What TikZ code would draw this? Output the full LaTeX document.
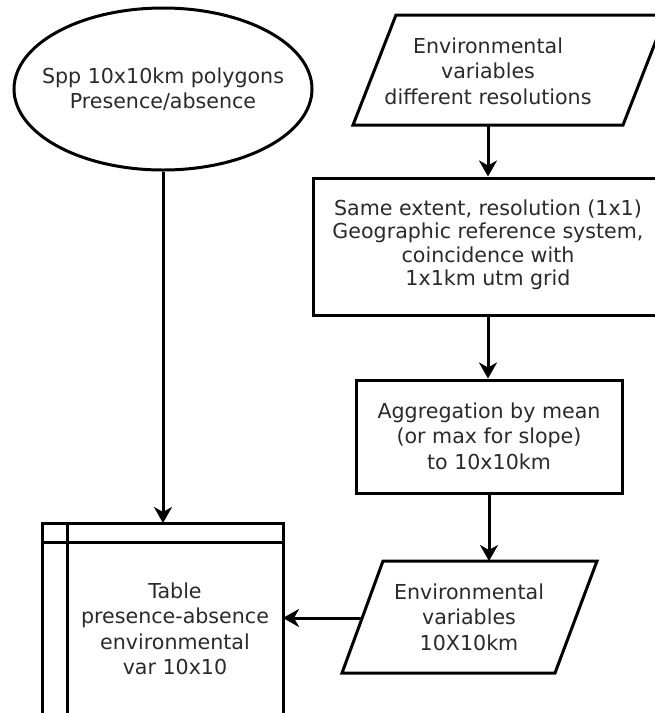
\documentclass[tikz,border=0pt]{standalone}
\usepackage{fontspec}
\setmainfont{DejaVu Sans}
\usetikzlibrary{arrows.meta,shapes.geometric}
\definecolor{txt}{HTML}{2A2A2A}
\tikzset{
  shapeline/.style={line width=3pt, line join=miter},
  label/.style={text=txt, align=center, font=\fontsize{20.6}{25.5}\selectfont, inner sep=0pt},
  flow/.style={line width=3pt, -{Stealth[length=16pt,width=18pt,inset=5pt]}},
}
\begin{document}
\begin{tikzpicture}[x=1pt,y=-1pt]
\useasboundingbox (0,0) rectangle (655,713);
\clip (0,0) rectangle (655,713);
\fill[white] (0,0) rectangle (655,713);

% ellipse
\node[shapeline, draw, ellipse, minimum width=298pt, minimum height=162pt, inner sep=0pt] (spp) at (163,89) {};
\node[label] (spptxt) at (163,89) {Spp 10x10km polygons\\Presence/absence};

% parallelogram 1
\coordinate (p1bl) at (353,125);
\coordinate (p1br) at (623,125);
\coordinate (p1tr) at (666,15);
\coordinate (p1tl) at (396,15);
\draw[shapeline] (p1bl) -- (p1br) -- (p1tr) -- (p1tl) -- cycle;
\coordinate (p1bot) at (488,125);
\node[label] (envtxt) at (488,71) {Environmental\\variables\\different resolutions};

% box 2
\node[shapeline, draw, minimum width=350pt, minimum height=137pt, inner sep=0pt] (same) at (488,246.5) {};
\node[label, font=\fontsize{20.6}{23.5}\selectfont] (sametxt) at (488,245) {Same extent, resolution (1x1)\\Geographic reference system,\\coincidence with\\1x1km utm grid};

% box 3
\node[shapeline, draw, minimum width=266pt, minimum height=113pt, inner sep=0pt] (agg) at (489,436.5) {};
\node[label] (aggtxt) at (489,436) {Aggregation by mean\\(or max for slope)\\ to 10x10km};

% parallelogram 2
\coordinate (p2bl) at (342,673);
\coordinate (p2br) at (555,673);
\coordinate (p2tr) at (597,561);
\coordinate (p2tl) at (383,561);
\draw[shapeline] (p2bl) -- (p2br) -- (p2tr) -- (p2tl) -- cycle;
\coordinate (p2top) at (489,561);
\coordinate (p2left) at (362,618);
\node[label] (env2txt) at (469,617) {Environmental\\variables\\10X10km};

% table
\coordinate (ttl) at (42,523);
\coordinate (tbr) at (283,714);
\draw[shapeline] (ttl) rectangle (tbr);
\draw[shapeline] (67,523) -- (67,714);
\draw[shapeline] (42,542) -- (283,542);
\coordinate (ttop) at (163,523);
\coordinate (tright) at (283,618);
\node[label] (tabtxt) at (175,629) {Table\\presence-absence\\environmental\\var 10x10};

% connectors
\draw[flow] (spp.south) -- (ttop);
\draw[flow] (p1bot) -- (same.north);
\draw[flow] (same.south) -- (agg.north -| same.south);
\draw[flow] (agg.south) -- (p2top);
\draw[flow] (p2left) -- (tright);
\end{tikzpicture}
\end{document}
